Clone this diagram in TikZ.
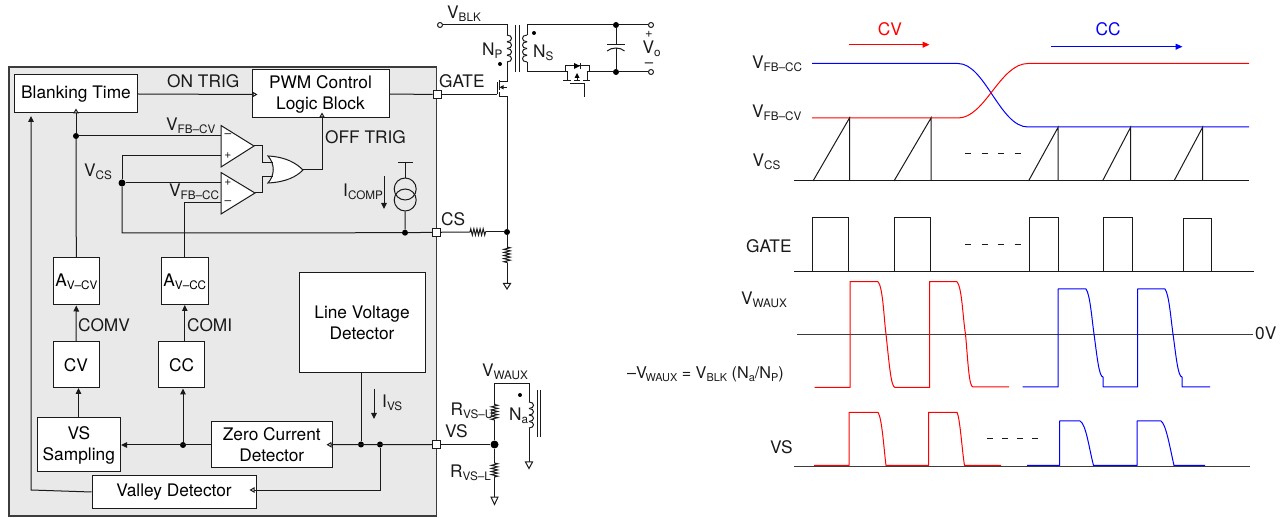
\documentclass[tikz,border=0pt]{standalone}
\usepackage{fontspec}
\setmainfont{TeX Gyre Heros}
\usetikzlibrary{arrows.meta,decorations.pathmorphing,calc}
\newcommand{\lo}[1]{\raisebox{-2.8pt}{\fontsize{11.7}{11.7}\selectfont #1}}
\newcommand{\loe}[1]{\raisebox{-2.6pt}{\fontsize{10.9}{10.9}\selectfont #1}}
\newcommand{\vcoil}[5]{\foreach \i in {1,...,#4}{\pgfmathsetmacro\ya{#2+(\i-1)*(#3-#2)/#4}\pgfmathsetmacro\yb{#2+\i*(#3-#2)/#4}\draw[wire] (#1,\ya) .. controls (#1+#5,\ya) and (#1+#5,\yb) .. (#1,\yb);}}
\definecolor{panel}{HTML}{E9E9E9}
\definecolor{ink}{HTML}{1A1A1A}
\tikzset{
 wire/.style={draw=ink,line width=1pt},
 frame/.style={draw=ink!85,line width=1.5pt},
 blockbox/.style={draw=ink,line width=1pt,fill=white,inner sep=0pt,align=center,font=\fontsize{17.3}{21}\selectfont},
 lab/.style={anchor=base west,inner sep=0pt,text=ink,font=\fontsize{17.3}{20}\selectfont},
 pin/.style={draw=ink,line width=1pt,fill=white,minimum size=8pt,inner sep=0pt},
 jd/.style={circle,fill=black,inner sep=0pt,minimum size=6pt},
 jdbig/.style={circle,fill=black,inner sep=0pt,minimum size=8pt},
 open/.style={-{Triangle[open,fill=white,length=5pt,width=5.5pt]}},
 solid tip/.style={-{Triangle[length=6pt,width=5.5pt]}},
 res/.style={wire,decorate,decoration={zigzag,segment length=3.1pt,amplitude=3.2pt}},
 gnd/.style={wire,fill=white},
 redw/.style={draw=red,line width=1pt,line join=round},
 bluew/.style={draw=blue,line width=1pt,line join=round},
 axisl/.style={draw=ink,line width=1pt},
 dashl/.style={draw=ink,line width=1pt,dash pattern=on 6pt off 10.5pt},
 dashs/.style={draw=ink,line width=1pt,dash pattern=on 6pt off 9pt},
 sign/.style={inner sep=0pt,font=\fontsize{12}{12}\selectfont,text=ink},
}
\begin{document}
\begin{tikzpicture}[x=1pt,y=-1pt]
\useasboundingbox (0,0) rectangle (1283,518);
% chip panel
\draw[frame,fill=panel] (9,67) rectangle (436.5,516);
% blocks
\node[blockbox,minimum width=122.5pt,minimum height=38pt] (blank) at (76,94) {Blanking Time};
\node[blockbox,minimum width=137pt,minimum height=48pt] (pwm) at (320.5,94) {PWM Control\\Logic Block};
\node[blockbox,minimum width=46.5pt,minimum height=47pt] (acv) at (76.3,281.5) {A\lo{V–CV}};
\node[blockbox,minimum width=46.5pt,minimum height=47pt] (acc) at (184.8,281.5) {A\lo{V–CC}};
\node[blockbox,minimum width=46pt,minimum height=46pt] (cv) at (76,365) {CV};
\node[blockbox,minimum width=46pt,minimum height=46pt] (cc) at (181.7,365) {CC};
\node[blockbox,minimum width=83.5pt,minimum height=54pt] (samp) at (78.8,445) {VS\\Sampling};
\node[blockbox,minimum width=120.5pt,minimum height=46pt] (zcd) at (271.8,445) {Zero Current\\Detector};
\node[blockbox,minimum width=164pt,minimum height=32pt] (valley) at (174,492) {Valley Detector};
\node[blockbox,minimum width=126pt,minimum height=100pt] (line) at (362,323) {Line Voltage\\Detector};
% pins
\node[pin] (gatepin) at (437,94.5) {};
\node[pin] (cspin) at (436.7,232.3) {};
\node[pin] (vspin) at (436.5,444.5) {};
% coordinates
\coordinate (btin) at (76,108.5);
\coordinate (btleft) at (31,116);
\coordinate (pwmon) at (257.5,94.5);
\coordinate (pwmoff) at (322,112.5);
\coordinate (zcdin) at (326.5,444.7);
\coordinate (vdin) at (249.5,490);
\coordinate (corner) at (31,490);
\node[jd] (dvcs) at (76,136) {};
\node[jd,minimum size=7pt] (dj) at (122,183) {};
\node[jd] (dic) at (405,232.7) {};
\node[jd] (dv1) at (361,444.5) {};
\node[jd] (dv2) at (380,444.5) {};
\node[jd] (dz) at (183,445) {};
% comparators
\coordinate (c1a) at (221,136); \coordinate (c1b) at (221,156); \coordinate (c1o) at (254,146);
\coordinate (c2a) at (221,183); \coordinate (c2b) at (221,203); \coordinate (c2o) at (255,193);
\draw[wire,fill=white,line join=miter] (221,125.5) -- (c1o) -- (221,167) -- cycle;
\draw[wire,fill=white,line join=miter] (221,172.5) -- (c2o) -- (221,214) -- cycle;
\node[sign] (m1) at (228,136) {–};
\node[sign] (p1) at (228,156) {+};
\node[sign] (p2) at (228,183) {+};
\node[sign] (m2) at (228,203) {–};
% OR gate
\draw[wire,fill=white] (268,156) .. controls (286,157) and (296,163) .. (303,170) .. controls (296,177) and (286,182) .. (268,183) .. controls (275,175) and (275,164) .. cycle;
\coordinate (or1) at (272.5,163); \coordinate (or2) at (272.5,177); \coordinate (oro) at (303,170);
% internal wiring
\draw[wire,open] (dvcs) -- (btin);
\draw[wire] (acv.north) -- (dvcs);
\draw[wire] (dvcs) -- (c1a);
\draw[wire] (c1b) -- (122,156) -- (dj);
\draw[wire] (dj) -- (c2a);
\draw[wire] (dj) -- (122,233) -- (dic);
\draw[wire] (dic) -- (cspin);
\draw[wire] (acc.north) -- (184.8,203) -- (c2b);
\draw[wire] (c1o) -- (262,146) -- (262,163) -- (or1);
\draw[wire] (c2o) -- (262,193) -- (262,177) -- (or2);
\draw[wire,open] (oro) -- (322,170) -- (pwmoff);
\draw[wire,open] (blank.east) -- (pwmon);
\draw[wire] (pwm.east) -- (gatepin);
\draw[wire,solid tip] (cv.north) -- (acv.south);
\draw[wire,solid tip] (184.8,342) -- (184.8,305);
\draw[wire,solid tip] (78.5,418) -- (78.5,388);
\draw[wire,solid tip] (dz) -- (cc.south -| dz);
\draw[wire,solid tip] (zcd.west) -- (samp.east);
\draw[wire,open] (vspin) -- (zcdin);
\draw[wire] (line.south -| dv1) -- (dv1);
\draw[wire,open] (dv2) -- (380,490) -- (vdin);
\draw[wire,solid tip] (valley.west) -- (corner) -- (btleft);
% current source
\coordinate (istop) at (405.2,163);
\draw[wire] (398,163) -- (412.5,163);
\draw[wire] (istop) -- (405.2,178);
\node[draw=ink,line width=1pt,circle,minimum size=22pt,inner sep=0pt] (is1) at (405.2,189) {};
\node[draw=ink,line width=1pt,circle,minimum size=22pt,inner sep=0pt] (is2) at (405.2,200) {};
\draw[wire] (is2.south) -- (dic);
\coordinate (ia) at (384,176); \coordinate (ib) at (384,209);
\draw[wire,solid tip] (ia) -- (ib);
\coordinate (iva) at (374,389); \coordinate (ivb) at (374,419);
\draw[wire,solid tip] (iva) -- (ivb);
% internal labels
\node[lab] (tontrig) at (167,88) {ON TRIG};
\node[lab] (tofftrig) at (325,144) {OFF TRIG};
\node[lab] (tfbcv) at (166,131) {V\lo{FB–CV}};
\node[lab] (tfbcc) at (169,197) {V\lo{FB–CC}};
\node[lab] (tvcs) at (84,177) {V\lo{CS}};
\node[lab] (ticomp) at (343,197) {I\lo{COMP}};
\node[lab] (tcomv) at (78,332) {COMV};
\node[lab] (tcomi) at (187,332) {COMI};
\node[lab] (tivs) at (382,408) {I\lo{VS}};
\node[lab] (tgate) at (439,88) {GATE};
\node[lab] (tcs) at (441,226) {CS};
\node[lab] (tvs) at (445,438) {VS};
% external CS network
\coordinate (r1a) at (470,232); \coordinate (r1b) at (486,232);
\node[jd] (ds) at (507,232) {};
\coordinate (r2a) at (507,247); \coordinate (r2b) at (507,263); \coordinate (g1) at (507,283.5);
\draw[wire] (cspin) -- (r1a);
\draw[res] (r1a) -- (r1b);
\draw[wire] (r1b) -- (ds);
\draw[wire] (ds) -- (r2a);
\draw[res] (r2a) -- (r2b);
\draw[wire] (r2b) -- (g1);
\draw[gnd] (503.5,283.5) -- (510.5,283.5) -- (507,289) -- cycle;
% primary MOSFET
\coordinate (mg) at (497,94.5);
\draw[wire] (gatepin) -- (mg);
\draw[wire] (mg) -- (497,82);
\draw[wire] (499,80.5) -- (499,85.5) (499,84.5) -- (499,90) (499,92) -- (499,97.5);
\draw[wire] (499,82) -- (507,82) (499,96.5) -- (507,96.5);
\draw[wire,-{Triangle[length=4pt,width=4pt]}] (507,87.3) -- (499.5,87.3);
\draw[wire] (507,82) -- (507,62);
\draw[wire] (507,96.5) -- (ds);
% primary winding
\node[draw=ink,line width=1pt,circle,inner sep=0pt,minimum size=5pt,fill=white] (vblk) at (440,25) {};
\draw[wire] (vblk) -- (507,25) -- (507,35);
\vcoil{507}{35}{62}{4}{6}
\fill[black] (500,64) circle (2pt);
\draw[wire] (515.7,25) -- (515.7,72) (519,25) -- (519,72);
\vcoil{527}{35}{62}{4}{-6}
\fill[black] (534,33) circle (2pt);
\node[jd] (dt) at (616,25) {};
\node[jd] (db) at (616,72) {};
\node[draw=ink,line width=1pt,circle,inner sep=0pt,minimum size=5pt,fill=white] (vop) at (651,25) {};
\node[draw=ink,line width=1pt,circle,inner sep=0pt,minimum size=5pt,fill=white] (von) at (651,72) {};
\draw[wire] (527,35) -- (527,25) -- (dt) -- (vop);
\draw[wire] (527,62) -- (527,72) -- (565,72);
\draw[wire] (589,72) -- (db) -- (von);
% output cap
\draw[wire] (dt) -- (616,44.5);
\draw[wire] (607,44.5) -- (624.5,44.5);
\draw[wire] (607,51) .. controls (612,47) and (620,47) .. (624.5,51);
\draw[wire] (616,48) -- (db);
% sync rectifier
\draw[wire] (565,72) -- (565,66) -- (589,66) -- (589,72);
\fill[black] (574,63) -- (574,69) -- (580,66) -- cycle;
\draw[wire] (580,62.8) -- (580,69.2);
\draw[wire] (565,72) -- (567,72) -- (567,81) (587,81) -- (587,72) -- (589,72);
\draw[wire] (577,81) -- (577,75);
\fill[black] (574.5,78) -- (579.5,78) -- (577,73) -- cycle;
\draw[wire] (563,81) -- (571,81) (574,81) -- (580,81) (583,81) -- (590,81);
\draw[wire] (570,84) -- (584,84) -- (584,97);
% aux network
\node[jdbig] (dvs) at (494.5,444.5) {};
\coordinate (r3a) at (494.5,403); \coordinate (r3b) at (494.5,420);
\coordinate (r4a) at (494.5,463); \coordinate (r4b) at (494.5,478); \coordinate (g2) at (494.5,497);
\draw[wire] (vspin) -- (dvs);
\draw[wire] (dvs) -- (r3b);
\draw[res] (r3b) -- (r3a);
\draw[wire] (r3a) -- (494.5,384) -- (529,384) -- (529,402);
\draw[wire] (dvs) -- (r4a);
\draw[res] (r4a) -- (r4b);
\draw[wire] (r4b) -- (g2);
\draw[gnd] (491,497) -- (498,497) -- (494.5,504.5) -- cycle;
\vcoil{529}{402}{428}{4}{6}
\draw[wire] (529,428) -- (529,462);
\draw[gnd] (525.5,462) -- (532.5,462) -- (529,468.5) -- cycle;
\fill[black] (520,395) circle (2pt);
\draw[wire] (537,390) -- (537,437) (540,390) -- (540,437);
% external labels
\node[lab] (tvblk) at (447,19) {V\lo{BLK}};
\node[lab] (tnp) at (482,56) {N\lo{P}};
\node[lab] (tns) at (533,58) {N\lo{S}};
\node[lab] (tvo) at (642.5,54) {V\lo{o}};
\node[inner sep=0pt,text=ink,font=\fontsize{13}{13}\selectfont] (tplus) at (649,34.5) {+};
\node[inner sep=0pt,text=ink,font=\fontsize{15}{15}\selectfont] (tminus) at (649,65) {–};
\node[lab] (tvwaux) at (482,377) {V\lo{WAUX}};
\node[lab] (trvsu) at (450.5,416) {R\lo{VS–U}};
\node[lab] (trvsl) at (450,478) {R\lo{VS–L}};
\node[lab] (tna) at (509,421) {N\lo{a}};
% waveforms: mode arrows
\node[lab,anchor=base,text=red] (tcv) at (890,36) {CV};
\node[lab,anchor=base,text=blue] (tcc) at (1108,36) {CC};
\coordinate (acva) at (849,44.7); \coordinate (acvb) at (929.5,44.7);
\coordinate (acca) at (1051,46.7); \coordinate (accb) at (1182.5,46.7);
\draw[redw,-{Triangle[length=7pt,width=6pt]}] (acva) -- (acvb);
\draw[bluew,-{Triangle[length=7pt,width=6pt]}] (acca) -- (accb);
% feedback levels
\draw[bluew] (812,63.5) -- (958,63.5) .. controls (985,63.5) and (1000,127) .. (1028,127) -- (1249,127);
\draw[redw] (812,118) -- (958,118) .. controls (985,118) and (1000,63.5) .. (1028,63.5) -- (1249,63.5);
% VCS
\draw[axisl] (794,181) -- (1249,181);
\draw[wire,line join=miter] (813,181) -- (849.5,118) -- (849.5,181);
\draw[wire,line join=miter] (894,181) -- (931,118) -- (931,181);
\draw[wire,line join=miter] (1028.5,181) -- (1058,127.5) -- (1058,181);
\draw[wire,line join=miter] (1102.5,181) -- (1130.5,127.5) -- (1130.5,181);
\draw[wire,line join=miter] (1174.5,180) -- (1202.5,127.5) -- (1202.5,180);
\draw[dashl] (965,154) -- (1021,154);
% GATE
\draw[axisl] (794,272) -- (1254,272);
\draw[wire] (812.5,272) -- (812.5,217.5) -- (848.5,217.5) -- (848.5,272);
\draw[wire] (894.5,272) -- (894.5,217.5) -- (930.5,217.5) -- (930.5,272);
\draw[wire] (1029,272) -- (1029,217.5) -- (1058,217.5) -- (1058,272);
\draw[wire] (1103.5,272) -- (1103.5,217.5) -- (1132.5,217.5) -- (1132.5,272);
\draw[wire] (1183,272) -- (1183,218.5) -- (1211.5,218.5) -- (1211.5,272);
\draw[dashl] (965,245) -- (1021,245);
% VWAUX
\draw[axisl,draw=ink!85] (797,334.7) -- (1253,334.7);
\draw[redw] (814.5,387.5) -- (850,387.5) -- (850,281.7) -- (878,281.7)
  .. controls (883,287) and (884,320) .. (886,334) .. controls (889,362) and (891,387.5) .. (895,387.5)
  -- (929.5,387.5) -- (929.5,281.7) -- (957,281.7)
  .. controls (962,287) and (963,320) .. (965.5,334) .. controls (968,362) and (969,387) .. (973,387) -- (1009,387);
\draw[bluew] (1022.5,387) -- (1058,387) -- (1058,289) -- (1086,289)
  .. controls (1090,294) and (1092,320) .. (1094,334) .. controls (1097,356) and (1099,377) .. (1103,377)
  -- (1103,387) -- (1137.5,387) -- (1137.5,289) -- (1165,289)
  .. controls (1169,294) and (1171,320) .. (1173,334) .. controls (1176,356) and (1178,377) .. (1182,377)
  -- (1182,387) -- (1210,387);
% VS
\draw[axisl,draw=ink!85] (794,466.7) -- (1250,466.7);
\draw[redw] (814,465.5) -- (849,465.5) -- (849,412.3) -- (878,412.3)
  .. controls (882,418) and (884,450) .. (886,465.5) -- (928.5,465.5) -- (928.5,412.3) -- (957,412.3)
  .. controls (960,418) and (962,450) .. (964.5,465.5) -- (1001,465.5);
\draw[bluew] (1027,465.5) -- (1059.5,465.5) -- (1059.5,421) -- (1080,421)
  .. controls (1086,424) and (1089,448) .. (1093.5,465.5) -- (1137,465.5) -- (1137,421) -- (1161,421)
  .. controls (1166,424) and (1170,448) .. (1174,465.5) -- (1205,465.5);
\draw[dashs] (987,439) -- (1038,439);
% waveform labels
\node[lab] (rfbcc) at (752,69) {V\lo{FB–CC}};
\node[lab] (rfbcv) at (752,118) {V\lo{FB–CV}};
\node[lab] (rvcs) at (752.5,166.5) {V\lo{CS}};
\node[lab] (rgate) at (746,253) {GATE};
\node[lab] (rwaux) at (741,305) {V\lo{WAUX}};
\node[lab,font=\fontsize{16.2}{18}\selectfont] (req) at (627,379) {–V\hspace{-1.5pt}\loe{WAUX} = V\loe{BLK} (N\loe{a}/N\loe{P})};
\node[lab] (rvs) at (770,453.5) {VS};
\node[lab] (rzero) at (1255,340) {0V};
\end{tikzpicture}
\end{document}
